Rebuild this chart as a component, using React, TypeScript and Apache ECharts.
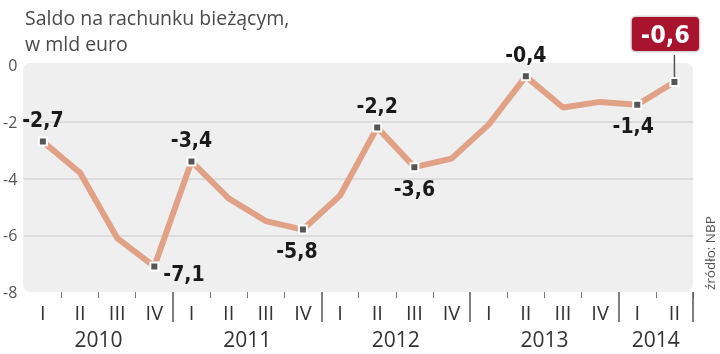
import React, { useEffect, useRef } from "react";
import * as echarts from "echarts";

const quarters = ["I","II","III","IV","I","II","III","IV","I","II","III","IV","I","II","III","IV","I","II"];
const years = ["2010","2011","2012","2013","2014"];
const yearCounts = [4,4,4,4,2];
const values = [-2.7,-3.8,-6.1,-7.1,-3.4,-4.7,-5.5,-5.8,-4.6,-2.2,-3.6,-3.3,-2.1,-0.4,-1.5,-1.3,-1.4,-0.6];
// label placement for labelled points: index -> position
const labelled: Record<number, { pos: string; offset?: number[] }> = {
  0: { pos: "top" },
  3: { pos: "right", offset: [-2, 8] },
  4: { pos: "top" },
  7: { pos: "bottom", offset: [-6, 0] },
  9: { pos: "top" },
  10: { pos: "bottom" },
  13: { pos: "top" },
  16: { pos: "bottom", offset: [-4, 0] },
};
const highlightIndex = 17;
const yTicks = { min: -8, max: 0, interval: 2 };

const GRID = { left: 23, right: 27, top: 65, bottom: 62 };
const W = 720, H = 354;
const LBL_FONT = "'DejaVu Sans Condensed', 'Liberation Sans Narrow', sans-serif";
const TXT_FONT = "'Open Sans', 'Noto Sans', sans-serif";

const fmt = (v: number) => String(v).replace(".", ",");

export default function App() {
  const ref = useRef<HTMLDivElement>(null);
  useEffect(() => {
    if (!ref.current) return;
    const chart = echarts.init(ref.current, null, { renderer: "svg" });

    const yearCenters: Record<string, string> = {};
    let start = 0;
    years.forEach((y, i) => {
      const c = start + (yearCounts[i] - 1) / 2;
      yearCenters[c.toFixed(1)] = y;
      start += yearCounts[i];
    });

    const data = values.map((v, i) => {
      if (i === highlightIndex) {
        return {
          value: v,
          symbol: "rect",
          symbolSize: 8,
          label: {
            show: true,
            position: "top",
            distance: 26,
            offset: [-9, 0],
            formatter: fmt(v),
            color: "#fff",
            fontFamily: LBL_FONT,
            fontWeight: "bold",
            fontSize: 25,
            backgroundColor: "#a8132d",
            borderColor: "#d8d8d8",
            borderWidth: 1.5,
            borderRadius: 4,
            padding: [5, 9, 4, 9],
          },
        };
      }
      const l = labelled[i];
      if (l) {
        return {
          value: v,
          symbol: "rect",
          symbolSize: 8,
          label: {
            show: true,
            position: l.pos,
            distance: 6,
            offset: l.offset || [0, 0],
            formatter: fmt(v),
            color: "#1a1a1a",
            fontFamily: LBL_FONT,
            fontWeight: "bold",
            fontSize: 21,
          },
        };
      }
      return { value: v, symbol: "none" };
    });

    const n = quarters.length;
    const baseGraphics = [
      {
        type: "rect",
        z: -10,
        silent: true,
        shape: { x: GRID.left, y: GRID.top - 2, width: W - GRID.left - GRID.right, height: H - GRID.top - GRID.bottom + 2, r: 8 },
        style: { fill: "#efefef" },
      },
      {
        type: "text",
        left: 25, top: 4,
        style: { text: "Saldo na rachunku bieżącym,\nw mld euro", fontFamily: TXT_FONT, fontSize: 19.5, lineHeight: 26, fill: "#4a4a4a" },
      },
      {
        type: "text",
        x: 703, y: 290,
        rotation: Math.PI / 2,
        style: { text: "źródło: NBP", fontFamily: TXT_FONT, fontSize: 13.5, fill: "#555" },
      },
    ];
    chart.setOption({
      animation: false,
      grid: { ...GRID },
      graphic: baseGraphics,
      xAxis: [
        {
          type: "category",
          data: quarters,
          boundaryGap: true,
          position: "bottom",
          axisLine: { show: false, onZero: false },
          axisTick: { show: true, length: 6, lineStyle: { color: "#777", width: 1 }, interval: (i: number) => i > 0 && i % 4 !== 0 },
          axisLabel: { margin: 10, fontFamily: TXT_FONT, fontSize: 20, color: "#333", interval: 0 },
        },
        {
          type: "category",
          data: quarters,
          boundaryGap: true,
          position: "bottom",
          axisLine: { show: false, onZero: false },
          axisTick: { show: true, length: 30, lineStyle: { color: "#555", width: 1.5 }, interval: (i: number) => i > 0 && i % 4 === 0 },
          axisLabel: { show: false },
        },
        {
          type: "value",
          min: -0.5,
          max: n - 0.5,
          interval: 0.5,
          position: "bottom",
          axisLine: { show: false, onZero: false },
          axisTick: { show: false },
          splitLine: { show: false },
          axisLabel: {
            margin: 36,
            fontFamily: TXT_FONT,
            fontSize: 21,
            color: "#333",
            formatter: (v: number) => yearCenters[v.toFixed(1)] || "",
          },
        },
      ],
      yAxis: {
        type: "value",
        ...yTicks,
        axisLine: { show: false },
        axisTick: { show: false },
        axisLabel: { margin: 7, fontFamily: TXT_FONT, fontSize: 16, color: "#555" },
        splitLine: { show: true, showMinLine: false, showMaxLine: false, lineStyle: { color: "#d6d6d6", width: 1.5 } },
      },
      series: [
        {
          type: "line",
          xAxisIndex: 0,
          data,
          lineStyle: { color: "#e0a187", width: 6 },
          itemStyle: { color: "#555", borderColor: "#fff", borderWidth: 2 },
          z: 3,
        },
      ],
    });

    const p = chart.convertToPixel({ xAxisIndex: 0, yAxisIndex: 0 }, [highlightIndex, values[highlightIndex]]) as number[];
    if (p) {
      chart.setOption({
        graphic: [
          ...baseGraphics,
          {
            type: "line",
            z: 1,
            shape: { x1: p[0], y1: p[1] - 4, x2: p[0], y2: p[1] - 27 },
            style: { stroke: "#555", lineWidth: 1.5 },
          },
        ],
      });
    }
    return () => chart.dispose();
  }, []);
  return <div ref={ref} style={{ position: "fixed", left: 0, top: 0, width: W, height: H }} />;
}
